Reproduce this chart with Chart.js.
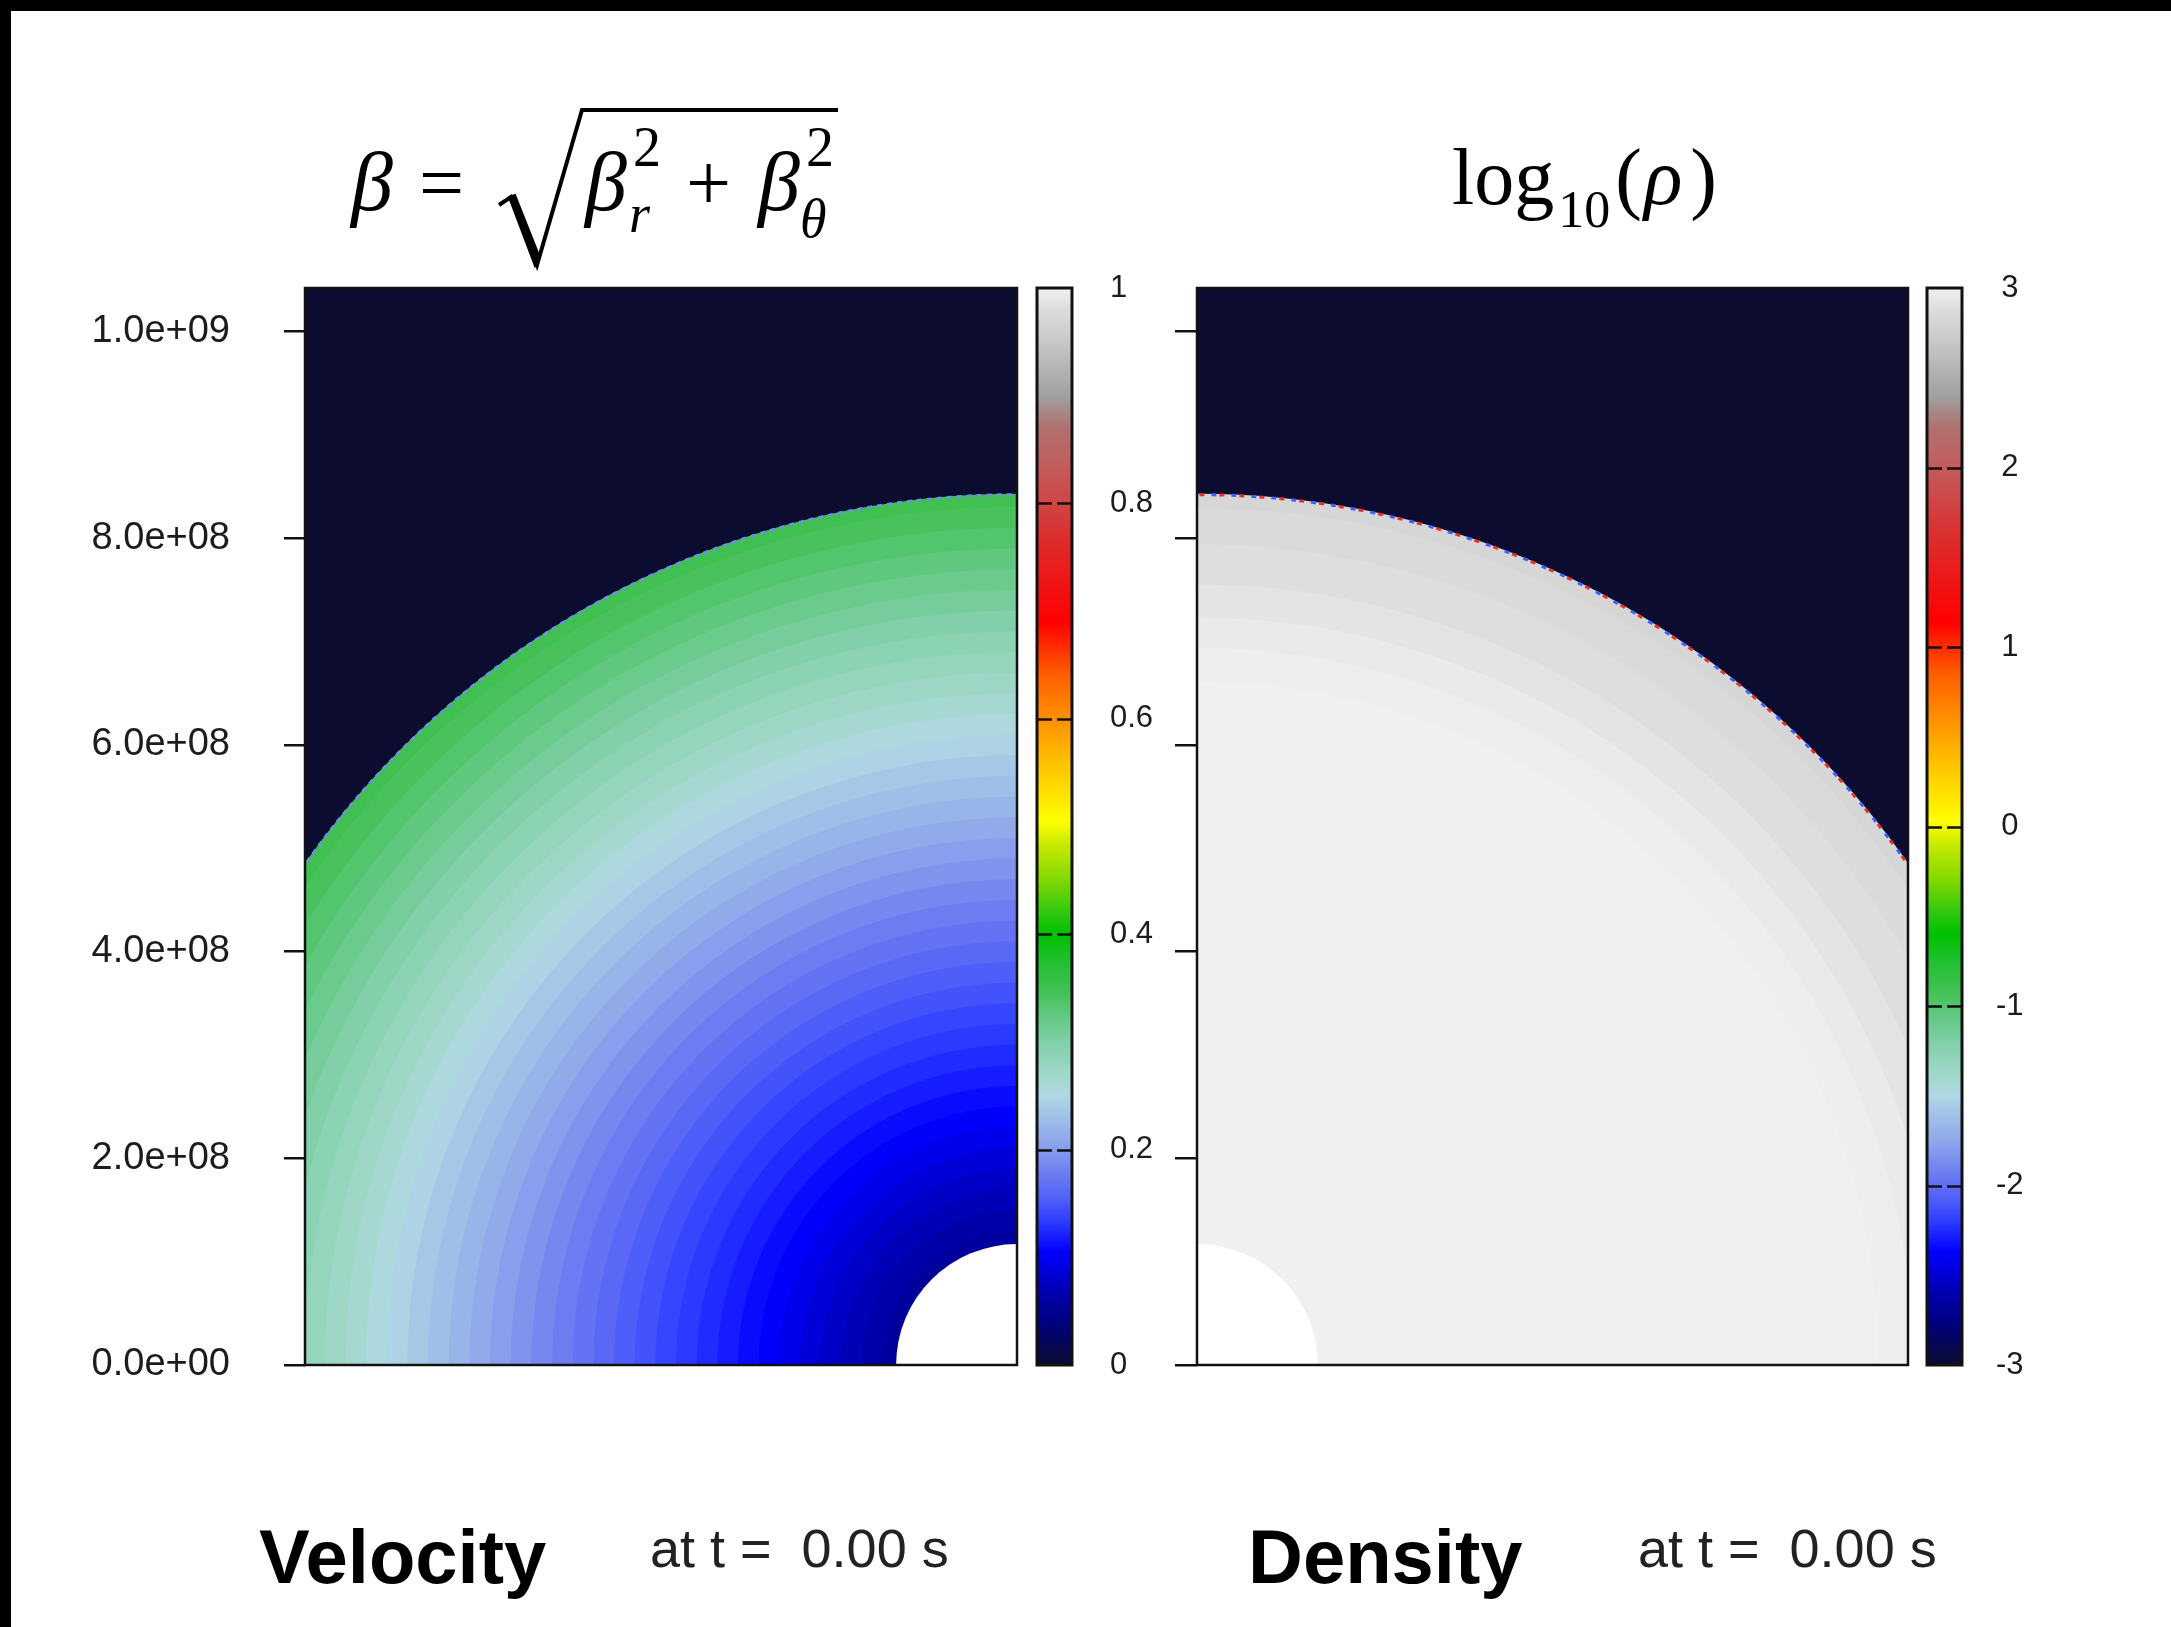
<!DOCTYPE html>
<html>
<head>
<meta charset="utf-8">
<script src="https://cdn.jsdelivr.net/npm/chart.js@4.4.1/dist/chart.umd.min.js"></script>
<style>
  html, body { margin: 0; padding: 0; background: #000; width: 2171px; height: 1627px; overflow: hidden; }
  #sheet { position: absolute; left: 11px; top: 11px; width: 2160px; height: 1616px; background: #fff; }
  canvas { position: absolute; top: 0; }
  #type { position: absolute; left: 0; top: 0; pointer-events: none; }
</style>
</head>
<body>
<div id="sheet"></div>
<canvas id="velocityMap" width="1030" height="1465" style="left:0px"></canvas>
<canvas id="velocityBar" width="180" height="1465" style="left:1030px"></canvas>
<canvas id="densityMap" width="820" height="1465" style="left:1100px"></canvas>
<canvas id="densityBar" width="251" height="1465" style="left:1920px"></canvas>

<svg id="type" width="2171" height="1627" xmlns="http://www.w3.org/2000/svg">
  <g font-family="'Liberation Serif', 'DejaVu Serif', serif" font-size="80" fill="#000">
    <text x="351" y="210" font-style="italic" font-size="84">β</text>
    <text x="419" y="210">=</text>
    <path d="M499,205 L511,197 L537,265 L582,110 L838,110" fill="none" stroke="#000" stroke-width="4" stroke-linejoin="miter"/>
    <path d="M509,197 L515,195 L540,258 L535,266 Z" fill="#000" stroke="#000" stroke-width="2"/>
    <text x="585" y="210" font-style="italic" font-size="84">β</text>
    <text x="629" y="232" font-size="54" font-style="italic">r</text>
    <text x="633" y="166" font-size="56">2</text>
    <text x="686" y="210">+</text>
    <text x="758" y="210" font-style="italic" font-size="84">β</text>
    <text x="800" y="237" font-size="54" font-style="italic">θ</text>
    <text x="806" y="166" font-size="56">2</text>
    <text x="1452" y="204">log<tspan font-size="52" dy="23" dx="4">10</tspan><tspan dy="-23" dx="5">(</tspan><tspan font-style="italic" dx="2">ρ</tspan><tspan dx="8">)</tspan></text>
  </g>
  <g font-family="'Liberation Sans', Arial, sans-serif">
    <text x="259" y="1583" font-size="76" font-weight="bold" fill="#000">Velocity</text>
    <text x="650" y="1567" font-size="54" fill="#222" xml:space="preserve">at t =  0.00 s</text>
    <text x="1248" y="1583" font-size="76" font-weight="bold" fill="#000">Density</text>
    <text x="1638" y="1567" font-size="54" fill="#222" xml:space="preserve">at t =  0.00 s</text>
  </g>
</svg>

<script>
// Meridional quadrant: axis extents (cm)
const xExtent = 6.89e8;
const yExtent = 1.042e9;

// Radius tick marks shared by both maps
const radiusTicks = [0, 2e8, 4e8, 6e8, 8e8, 1e9];
const radiusTickLabels = ['0.0e+00', '2.0e+08', '4.0e+08', '6.0e+08', '8.0e+08', '1.0e+09'];

// Star: inner excised core and outer surface radius (cm)
const innerRadius = 1.17e8;
const surfaceRadius = 8.43e8;

// Velocity field beta by radial shell (outer radius of each shell, cm)
const velocityShellRadius = [1.3e8, 1.5e8, 1.7e8, 1.9e8, 2.1e8, 2.3e8, 2.5e8, 2.7e8, 2.9e8, 3.1e8,
                             3.3e8, 3.5e8, 3.7e8, 3.9e8, 4.1e8, 4.3e8, 4.5e8, 4.7e8, 4.9e8, 5.1e8,
                             5.3e8, 5.5e8, 5.7e8, 5.9e8, 6.1e8, 6.3e8, 6.5e8, 6.7e8, 6.9e8, 7.1e8,
                             7.3e8, 7.5e8, 7.7e8, 7.9e8, 8.1e8, 8.3e8, 8.43e8];
const velocityBeta = [0.057, 0.063, 0.071, 0.079, 0.087, 0.095, 0.103, 0.110, 0.118, 0.125,
                      0.132, 0.139, 0.147, 0.154, 0.162, 0.170, 0.178, 0.186, 0.194, 0.202,
                      0.211, 0.220, 0.229, 0.237, 0.246, 0.254, 0.263, 0.272, 0.281, 0.290,
                      0.299, 0.308, 0.317, 0.326, 0.335, 0.343, 0.350];
const velocityOutside = 0;

// Density field log10(rho) by radial shell (outer radius of each shell, cm)
const densityShellRadius = [6.61e8, 6.94e8, 7.23e8, 7.55e8, 7.94e8, 8.29e8, 8.43e8];
const densityLogRho = [3.0, 2.99, 2.966, 2.93, 2.89, 2.86, 2.83];
const densityOutside = -3;

// Colour bar ranges and ticks
const velocityRange = [0, 1];
const velocityBarTicks = [0, 0.2, 0.4, 0.6, 0.8, 1];
const velocityBarLabels = ['0', '0.2', '0.4', '0.6', '0.8', '1'];
const densityRange = [-3, 3];
const densityBarTicks = [-3, -2, -1, 0, 1, 2, 3];
const densityBarLabels = ['-3', '-2', '-1', '0', '1', '2', '3'];

// Palette: fraction of colour range -> colour
const palette = [
  [0.00, '#0c0c30'], [0.04, '#000080'], [0.07, '#0000b4'], [0.105, '#0000ff'],
  [0.135, '#3040ff'], [0.155, '#5060f8'], [0.18, '#7080f0'], [0.21, '#90aaea'],
  [0.23, '#a0c0e8'], [0.25, '#b0d8e4'], [0.27, '#a0d8c8'], [0.30, '#80d0a8'],
  [0.325, '#60c880'], [0.35, '#40c050'], [0.375, '#20c030'], [0.40, '#00c000'],
  [0.42, '#30c810'], [0.45, '#80d800'], [0.48, '#c0e800'], [0.505, '#ffff00'],
  [0.56, '#ffc000'], [0.60, '#ff9000'], [0.64, '#ff6000'], [0.69, '#ff0000'],
  [0.76, '#e02828'], [0.80, '#d04444'], [0.84, '#c06060'], [0.87, '#b07070'],
  [0.90, '#a0a0a0'], [0.95, '#c8c8c8'], [0.98, '#dcdcdc'], [1.00, '#f0f0f0']
];

function hexToRgb(h) {
  return [parseInt(h.slice(1, 3), 16), parseInt(h.slice(3, 5), 16), parseInt(h.slice(5, 7), 16)];
}
function paletteColour(f) {
  f = Math.max(0, Math.min(1, f));
  for (let i = 1; i < palette.length; i++) {
    if (f <= palette[i][0]) {
      const [f0, c0] = palette[i - 1], [f1, c1] = palette[i];
      const t = (f - f0) / (f1 - f0);
      const a = hexToRgb(c0), b = hexToRgb(c1);
      const m = a.map((v, k) => Math.round(v + (b[k] - v) * t));
      return `rgb(${m[0]},${m[1]},${m[2]})`;
    }
  }
  return palette[palette.length - 1][1];
}

const frameColour = '#111';
const axisFont = { family: "'Liberation Sans', Arial, sans-serif", size: 38 };
const barFont = { family: "'Liberation Sans', Arial, sans-serif", size: 31 };
const bottomPad = 100;

// Draws the radial shells of a field inside the chart area using the chart's scales
function fieldPlugin(shellRadius, shellValue, outsideValue, range, edgeColours) {
  return {
    id: 'radialField',
    beforeDatasetsDraw(chart) {
      const { ctx, chartArea: a, scales: { x, y } } = chart;
      const span = range[1] - range[0];
      const cx = x.getPixelForValue(0), cy = y.getPixelForValue(0);
      const rx = r => Math.abs(x.getPixelForValue(r) - cx);
      const ry = r => Math.abs(cy - y.getPixelForValue(r));
      ctx.save();
      ctx.beginPath();
      ctx.rect(a.left, a.top, a.width, a.height);
      ctx.clip();
      ctx.fillStyle = paletteColour((outsideValue - range[0]) / span);
      ctx.fillRect(a.left, a.top, a.width, a.height);
      for (let i = shellRadius.length - 1; i >= 0; i--) {
        ctx.beginPath();
        ctx.ellipse(cx, cy, rx(shellRadius[i]), ry(shellRadius[i]), 0, 0, 2 * Math.PI);
        ctx.fillStyle = paletteColour((shellValue[i] - range[0]) / span);
        ctx.fill();
      }
      // speckled cells along the surface
      edgeColours.forEach((c, k) => {
        ctx.beginPath();
        ctx.ellipse(cx, cy, rx(surfaceRadius) - 1, ry(surfaceRadius) - 1, 0, 0, 2 * Math.PI);
        ctx.setLineDash([5, 5 + 10 * (edgeColours.length - 1)]);
        ctx.lineDashOffset = -k * 12;
        ctx.strokeStyle = c;
        ctx.lineWidth = 3;
        ctx.stroke();
      });
      ctx.setLineDash([]);
      // excised core
      ctx.beginPath();
      ctx.ellipse(cx, cy, rx(innerRadius), ry(innerRadius), 0, 0, 2 * Math.PI);
      ctx.fillStyle = '#ffffff';
      ctx.fill();
      ctx.restore();
    },
    afterDraw(chart) {
      const { ctx, chartArea: a } = chart;
      ctx.save();
      ctx.strokeStyle = frameColour;
      ctx.lineWidth = 2.5;
      ctx.strokeRect(a.left, a.top, a.width, a.height);
      ctx.restore();
    }
  };
}

// Draws a vertical colour bar with inward tick dashes
function barPlugin(range, ticks) {
  return {
    id: 'colourBar',
    beforeDatasetsDraw(chart) {
      const { ctx, chartArea: a, scales: { y } } = chart;
      const y0 = y.getPixelForValue(range[0]), y1 = y.getPixelForValue(range[1]);
      const g = ctx.createLinearGradient(0, y0, 0, y1);
      palette.forEach(([f, c]) => g.addColorStop(f, c));
      ctx.save();
      ctx.fillStyle = g;
      ctx.fillRect(a.left, a.top, a.width, a.height);
      ctx.strokeStyle = frameColour;
      ctx.lineWidth = 2.5;
      ticks.slice(1, -1).forEach(v => {
        const py = Math.round(y.getPixelForValue(v)) + 0.5;
        ctx.beginPath();
        ctx.moveTo(a.left, py); ctx.lineTo(a.left + 15, py);
        ctx.moveTo(a.right - 15, py); ctx.lineTo(a.right, py);
        ctx.stroke();
      });
      ctx.lineWidth = 3;
      ctx.strokeRect(a.left, a.top, a.width, a.height);
      ctx.restore();
    }
  };
}

function mapChart(id, reverse, showLabels, axisWidth, tickLength, rightPad, plugin) {
  return new Chart(document.getElementById(id), {
    type: 'scatter',
    data: { datasets: [{ data: [] }] },
    options: {
      responsive: false,
      animation: false,
      devicePixelRatio: 1,
      layout: { padding: { top: 288, right: rightPad, bottom: bottomPad, left: 0 } },
      plugins: { legend: { display: false }, tooltip: { enabled: false } },
      scales: {
        x: { type: 'linear', min: 0, max: xExtent, reverse: reverse, display: false },
        y: {
          type: 'linear', position: 'left', min: 0, max: yExtent,
          afterFit: s => { s.width = axisWidth; },
          afterBuildTicks: s => { s.ticks = radiusTicks.map(v => ({ value: v })); },
          ticks: {
            display: showLabels,
            padding: 54,
            font: axisFont,
            color: '#1c1c1c',
            callback: v => radiusTickLabels[radiusTicks.indexOf(v)]
          },
          grid: { drawOnChartArea: false, drawTicks: true, tickLength: tickLength, color: frameColour, lineWidth: 2.5 },
          border: { display: false }
        }
      }
    },
    plugins: [plugin]
  });
}

function barChart(id, range, ticks, labels, axisWidth, align, pad) {
  return new Chart(document.getElementById(id), {
    type: 'scatter',
    data: { datasets: [{ data: [] }] },
    options: {
      responsive: false,
      animation: false,
      devicePixelRatio: 1,
      layout: { padding: { top: 288, right: 0, bottom: bottomPad, left: 7 } },
      plugins: { legend: { display: false }, tooltip: { enabled: false } },
      scales: {
        x: { type: 'linear', min: 0, max: 1, display: false },
        y: {
          type: 'linear', position: 'right', min: range[0], max: range[1],
          afterFit: s => { s.width = axisWidth; },
          afterBuildTicks: s => { s.ticks = ticks.map(v => ({ value: v })); },
          ticks: {
            padding: pad,
            crossAlign: align,
            font: barFont,
            color: '#1c1c1c',
            callback: v => labels[ticks.indexOf(v)]
          },
          grid: { display: false },
          border: { display: false }
        }
      }
    },
    plugins: [barPlugin(range, ticks)]
  });
}

mapChart('velocityMap', true, true, 305, 21, 13,
  fieldPlugin(velocityShellRadius, velocityBeta, velocityOutside, velocityRange, ['#7090e8']));
barChart('velocityBar', velocityRange, velocityBarTicks, velocityBarLabels, 138, 'near', 30);
mapChart('densityMap', false, false, 97, 22, 12,
  fieldPlugin(densityShellRadius, densityLogRho, densityOutside, densityRange, ['#e83030', '#4060ff']));
barChart('densityBar', densityRange, densityBarTicks, densityBarLabels, 209, 'center', 26);
</script>
</body>
</html>
